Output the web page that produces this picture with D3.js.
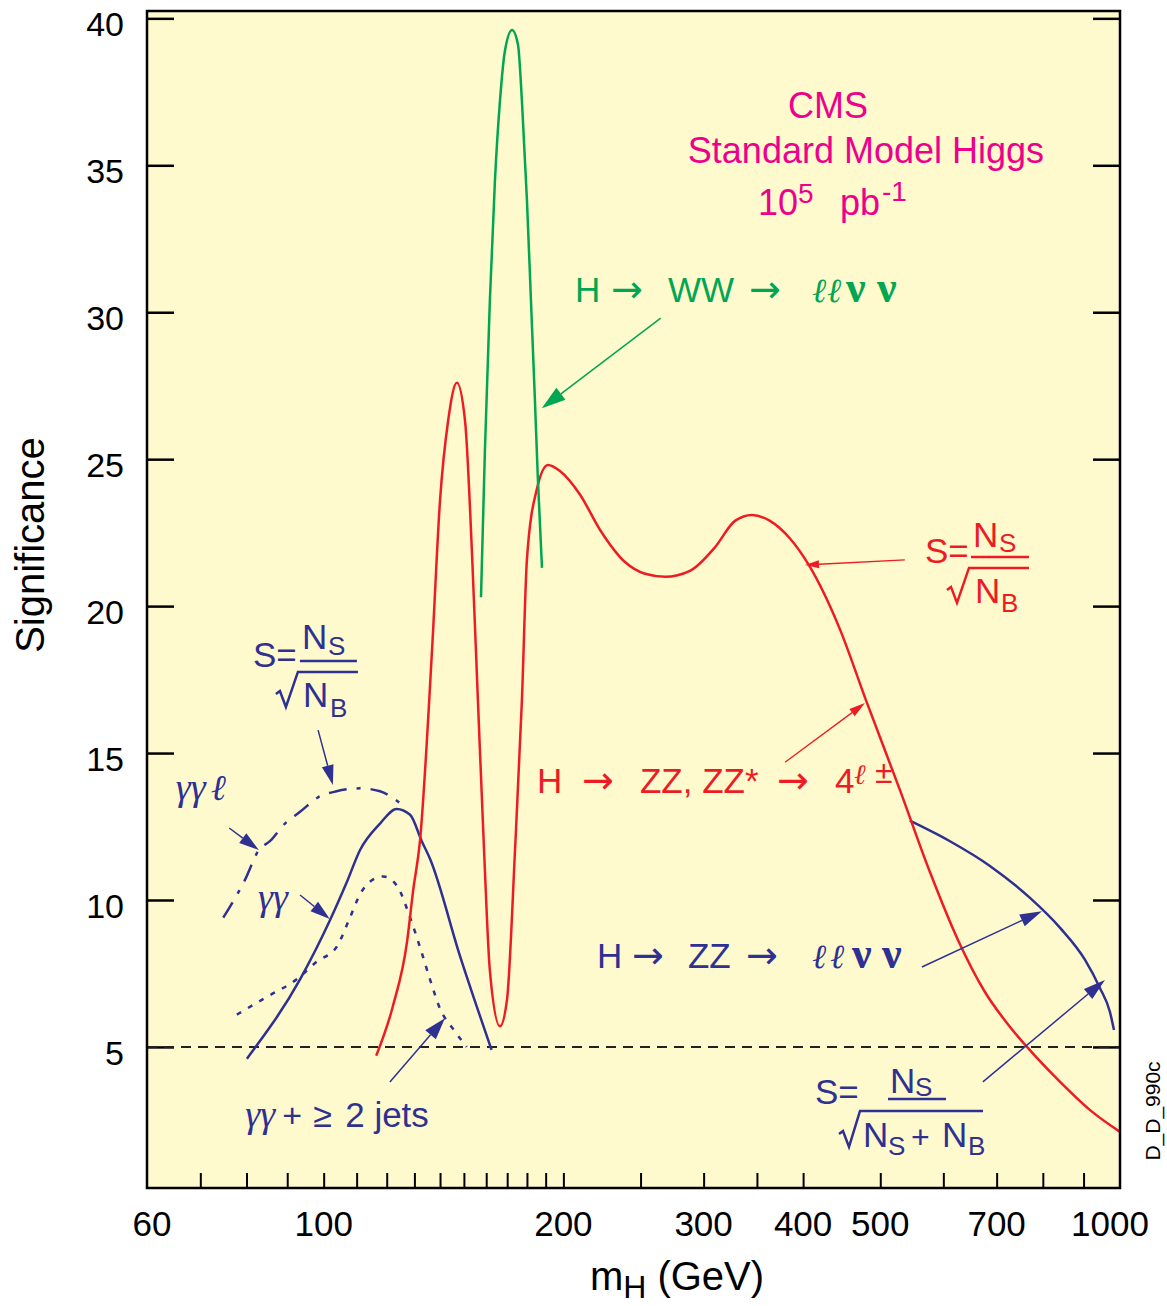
<!DOCTYPE html>
<html>
<head>
<meta charset="utf-8">
<script src="https://cdn.jsdelivr.net/npm/d3@7"></script>
<style>
  body { margin: 0; background: #fff; }
  svg { display: block; font-family: "Liberation Sans", Arial, Helvetica, sans-serif; }
</style>
</head>
<body>
<svg id="root" width="1167" height="1306"></svg>
<script>
// ---------------- data (mass in GeV, significance) ----------------
const yTickValues = [5, 10, 15, 20, 25, 30, 35, 40];
const xTickLabels = [60, 100, 200, 300, 400, 500, 700, 1000];
const xMinorTicks = [70, 80, 90, 100, 110, 120, 130, 140, 150, 160, 170, 180, 190, 200,
  250, 300, 350, 400, 500, 600, 700, 800, 900];
const discoveryLevel = 5;

// H -> ZZ, ZZ* -> 4 leptons
const zz4lMass = [116.4, 122.2, 127.3, 129.5, 132.1, 136.8, 140.0, 143.3, 147.0, 150.5, 153.5,
  156.2, 159.0, 161.7, 166.5, 169.9, 173.9, 177.4, 180.0, 185.3, 191.3, 198.0, 209.8, 222.3,
  239.0, 253.3, 268.4, 288.4, 310.0, 328.5, 345.0, 363.5, 385.1, 406.6, 445.1, 479.7, 529.3,
  577.2, 625.9, 676.7, 727.6, 764.2, 841.0, 917.1, 1000];
const zz4lSig = [4.7, 6.4, 8.6, 10.3, 12.0, 18.5, 23.6, 26.3, 27.6, 26.3, 21.9,
  16.8, 11.7, 7.6, 5.7, 6.6, 11.7, 16.8, 21.6, 24.0, 24.8, 24.6, 23.8, 22.6,
  21.5, 21.1, 21.0, 21.2, 22.0, 22.9, 23.1, 22.9, 22.3, 21.4, 19.2, 16.8, 13.74,
  10.95, 8.64, 6.87, 5.68, 5.0, 3.81, 2.85, 2.11];

// H -> WW -> l l nu nu
const wwMass = [157.6, 159.4, 161.7, 164.1, 166.5, 168.9, 172.4, 175.4, 177.4, 180.0, 182.1, 184.2, 185.8, 188.0];
const wwSig = [20.3, 25.3, 30.4, 34.5, 37.2, 38.9, 39.6, 39.1, 37.2, 33.8, 30.4, 27.0, 24.3, 21.3];

// H -> gamma gamma (inclusive)
const ggMass = [80.1, 93.4, 101.8, 106.9, 111.1, 117.7, 123.5, 128.4, 132.8, 136.0, 148.3, 162.5];
const ggSig = [4.6, 7.3, 9.3, 10.6, 11.7, 12.6, 13.1, 12.9, 12.0, 11.4, 8.1, 4.9];

// H -> gamma gamma + lepton
const gglMass = [74.8, 79.7, 82.9, 85.6, 89.4, 93.4, 98.5, 103.8, 111.1, 117.7, 124.7];
const gglSig = [9.4, 10.7, 11.7, 12.0, 12.6, 13.0, 13.5, 13.7, 13.8, 13.7, 13.3];

// H -> gamma gamma + >= 2 jets
const ggjjMass = [77.8, 84.8, 92.5, 98.0, 103.8, 107.9, 111.1, 115.4, 118.8, 123.5, 128.4, 132.1, 136.0, 140.0, 145.5, 151.2];
const ggjjSig = [6.1, 6.7, 7.3, 7.9, 8.4, 9.4, 10.2, 10.7, 10.8, 10.5, 9.4, 8.4, 7.3, 6.3, 5.6, 5.0];

// H -> ZZ -> l l nu nu
const zzllvvMass = [544.6, 611.6, 686.5, 770.9, 841.0, 903.9, 943.8, 971.4, 982.7];
const zzllvvSig = [12.7, 12.0, 11.16, 10.07, 9.05, 7.96, 7.0, 6.19, 5.58];

// ---------------- layout ----------------
const RED = "#ed1c24", GREEN = "#00a651", BLUE = "#2e3192", MAGENTA = "#ec008c", BG = "#fffacd";
const SERIF = '"Liberation Serif", "DejaVu Serif", serif';
const ARROWFONT = '"DejaVu Sans", sans-serif';

const svg = d3.select("#root");
const X0 = 147, X1 = 1120, Y0 = 11, Y1 = 1188;

const x = d3.scaleLog().domain([60, 1000]).range([X0, X1]);
const y = d3.scaleLinear().domain([0.2, 40.25]).range([Y1, Y0]);

svg.append("rect")
  .attr("x", X0).attr("y", Y0).attr("width", X1 - X0).attr("height", Y1 - Y0)
  .attr("fill", BG);

svg.append("clipPath").attr("id", "plot")
  .append("rect").attr("x", X0).attr("y", Y0).attr("width", X1 - X0).attr("height", Y1 - Y0);

// ticks
let xt = svg.append("g").attr("transform", `translate(0,${Y1})`)
  .call(d3.axisBottom(x).tickValues(xMinorTicks).tickSize(-15).tickFormat(""));
xt.select(".domain").remove();
xt.selectAll("line").attr("stroke-width", 2);

let ytl = svg.append("g").attr("transform", `translate(${X0},0)`)
  .call(d3.axisLeft(y).tickValues(yTickValues).tickSize(-27).tickFormat(""));
let ytr = svg.append("g").attr("transform", `translate(${X1},0)`)
  .call(d3.axisRight(y).tickValues(yTickValues).tickSize(-27).tickFormat(""));
[ytl, ytr].forEach(g => {
  g.select(".domain").remove();
  g.selectAll("line").attr("stroke-width", 2.5);
});

svg.append("g").selectAll("text").data(xTickLabels).join("text")
  .attr("x", d => x(d)).attr("y", 1236)
  .attr("text-anchor", "middle").attr("font-size", 35)
  .attr("dx", (d, i) => i === 0 ? 5 : (i === xTickLabels.length - 1 ? -10 : 0))
  .text(d => d);

svg.append("g").selectAll("text").data(yTickValues).join("text")
  .attr("x", 124).attr("y", d => y(d) + 18)
  .attr("text-anchor", "end").attr("font-size", 34)
  .text(d => d);

// axis titles
let xTitle = svg.append("text").attr("x", 677).attr("y", 1290)
  .attr("text-anchor", "middle").attr("font-size", 40);
xTitle.append("tspan").text("m");
xTitle.append("tspan").attr("font-size", 32).attr("dy", 8).text("H");
xTitle.append("tspan").attr("dy", -8).text(" (GeV)");

svg.append("text").attr("transform", "translate(44,545) rotate(-90)")
  .attr("text-anchor", "middle").attr("font-size", 40).text("Significance");

svg.append("text").attr("transform", "translate(1160,1111) rotate(-90)")
  .attr("text-anchor", "middle").attr("font-size", 21).text("D_D_990c");

// ---------------- curves ----------------
const plot = svg.append("g").attr("clip-path", "url(#plot)");

plot.append("line")
  .attr("x1", X0).attr("x2", X1)
  .attr("y1", y(discoveryLevel)).attr("y2", y(discoveryLevel))
  .attr("stroke", "#222").attr("stroke-width", 2).attr("stroke-dasharray", "10,7");

const line = d3.line().x(d => x(d[0])).y(d => y(d[1])).curve(d3.curveMonotoneX);

function curve(mass, sig, color, dash) {
  plot.append("path")
    .datum(d3.zip(mass, sig))
    .attr("d", line)
    .attr("fill", "none")
    .attr("stroke", color)
    .attr("stroke-width", 2.5)
    .attr("stroke-dasharray", dash || null);
}

curve(gglMass, gglSig, BLUE, "18,10,4,10");
curve(ggjjMass, ggjjSig, BLUE, "5,8");
curve(ggMass, ggSig, BLUE);
curve(zzllvvMass, zzllvvSig, BLUE);
curve(zz4lMass, zz4lSig, RED);
curve(wwMass, wwSig, GREEN);

// ---------------- annotations ----------------
const ann = svg.append("g");

function arrow(m1, s1, m2, s2, color, width, headLen, headW) {
  const x1 = x(m1), y1 = y(s1), x2 = x(m2), y2 = y(s2);
  const a = Math.atan2(y2 - y1, x2 - x1);
  const bx = x2 - headLen * Math.cos(a), by = y2 - headLen * Math.sin(a);
  const px = -Math.sin(a) * headW / 2, py = Math.cos(a) * headW / 2;
  ann.append("line").attr("x1", x1).attr("y1", y1).attr("x2", bx).attr("y2", by)
    .attr("stroke", color).attr("stroke-width", width);
  ann.append("path")
    .attr("d", `M${x2},${y2}L${bx + px},${by + py}L${bx - px},${by - py}Z`)
    .attr("fill", color);
}

// parts: [dx, dy, text, size, font, style, weight]
function label(m, s, color, parts) {
  const ox = x(m), oy = y(s);
  parts.forEach(p => {
    ann.append("text")
      .attr("x", ox + p[0]).attr("y", oy + p[1])
      .attr("font-size", p[3] || 35)
      .attr("font-family", p[4] || null)
      .attr("font-style", p[5] || null)
      .attr("font-weight", p[6] || null)
      .attr("fill", color)
      .text(p[2]);
  });
}

function radical(m, s, color, pts) {
  const ox = x(m), oy = y(s);
  ann.append("path")
    .attr("d", d3.line()(pts.map(p => [ox + p[0], oy + p[1]])))
    .attr("fill", "none").attr("stroke", color).attr("stroke-width", 2.5);
}

const RARR = "\u2192", ELL = "\u2113", NU = "\u03bd";

// title block
ann.append("text").attr("x", x(429.8)).attr("y", y(36.61)).attr("text-anchor", "middle")
  .attr("font-size", 36).attr("fill", MAGENTA).text("CMS");
ann.append("text").attr("x", x(479.7)).attr("y", y(35.09)).attr("text-anchor", "middle")
  .attr("font-size", 36).attr("fill", MAGENTA).text("Standard Model Higgs");
label(351, 33.31, MAGENTA, [
  [0, 0, "10", 36], [40, -12, "5", 28], [82, 0, "pb", 36], [124, -14, "-1", 28]
]);

// H -> WW
label(206.8, 30.36, GREEN, [
  [0, 0, "H"], [36, 0, RARR, 38, ARROWFONT], [93, 0, "WW"], [174, 0, RARR, 38, ARROWFONT],
  [237, 0, ELL, 34, SERIF, "italic"], [252, 0, ELL, 34, SERIF, "italic"],
  [271, 0, NU, 44, SERIF, null, "bold"], [302, 0, NU, 44, SERIF, null, "bold"]
]);
arrow(265.0, 29.80, 187.9, 26.73, GREEN, 1.5, 24, 15);

// S = Ns / sqrt(Nb), red
label(569, 21.47, RED, [
  [0, 0, "S="], [48, -16, "N"], [74, -11, "S", 26], [50, 40, "N"], [76, 49, "B", 26]
]);
ann.append("line").attr("x1", x(569) + 46).attr("x2", x(569) + 104)
  .attr("y1", y(21.47) - 6).attr("y2", y(21.47) - 6)
  .attr("stroke", RED).attr("stroke-width", 2.5);
radical(569, 21.47, RED, [[22, 27], [26, 24], [32, 40], [44, 5], [104, 5]]);
arrow(536.8, 21.57, 402.2, 21.40, RED, 1.3, 14, 8);

// H -> ZZ, ZZ* -> 4l
label(185.3, 13.64, RED, [
  [0, 0, "H"], [45, 0, RARR, 38, ARROWFONT], [103, 0, "ZZ, ZZ*"], [240, 0, RARR, 38, ARROWFONT], [298, 0, "4"],
  [317, -9, ELL, 28, SERIF, "italic"], [338, -10, "\u00b1", 32]
]);
arrow(379.6, 14.69, 478.3, 16.70, RED, 1.3, 16, 9);

// S = Ns / sqrt(Nb), blue
label(81.5, 17.93, BLUE, [
  [0, 0, "S="], [49, -18, "N"], [75, -12, "S", 26], [50, 40, "N"], [77, 50, "B", 26]
]);
ann.append("line").attr("x1", x(81.5) + 47).attr("x2", x(81.5) + 104)
  .attr("y1", y(17.93) - 6).attr("y2", y(17.93) - 6)
  .attr("stroke", BLUE).attr("stroke-width", 2.5);
radical(81.5, 17.93, BLUE, [[23, 27], [27, 24], [33, 40], [45, 5], [105, 5]]);
arrow(98.4, 15.78, 102.7, 13.91, BLUE, 1.5, 20, 12);

// gamma gamma l
label(65.2, 13.40, BLUE, [[0, 0, "\u03b3\u03b3", 38, SERIF, "italic"], [35, 0, ELL, 36, SERIF, "italic"]]);
arrow(76.1, 12.45, 82.9, 11.70, BLUE, 1.5, 20, 12);

// gamma gamma
label(82.7, 9.66, BLUE, [[0, 0, "\u03b3\u03b3", 38, SERIF, "italic"]]);
arrow(93.4, 10.17, 101.8, 9.35, BLUE, 1.5, 20, 12);

// gamma gamma + >= 2 jets
label(79.7, 2.28, BLUE, [
  [0, 0, "\u03b3\u03b3", 38, SERIF, "italic"], [37, 0, "+", 34], [68, 0, "\u2265", 34], [100, 0, "2 jets", 35]
]);
arrow(121.1, 3.81, 142.0, 5.98, BLUE, 1.5, 22, 14);

// H -> ZZ -> l l nu nu
label(220.4, 7.69, BLUE, [
  [0, 0, "H"], [35, 0, RARR, 38, ARROWFONT], [91, 0, "ZZ"], [149, 0, RARR, 38, ARROWFONT],
  [215, 0, ELL, 34, SERIF, "italic"], [233, 0, ELL, 34, SERIF, "italic"],
  [255, 0, NU, 44, SERIF, null, "bold"], [285, 0, NU, 44, SERIF, null, "bold"]
]);
arrow(564, 7.72, 797.9, 9.62, BLUE, 1.5, 22, 13);

// S = Ns / sqrt(Ns + Nb), blue
label(414, 3.06, BLUE, [
  [0, 0, "S="], [75, -11, "N"], [100, -8, "S", 26],
  [48, 43, "N"], [73, 51, "S", 26], [96, 44, "+", 32], [127, 43, "N"], [153, 51, "B", 26]
]);
ann.append("line").attr("x1", x(414) + 73).attr("x2", x(414) + 131)
  .attr("y1", y(3.06) - 5).attr("y2", y(3.06) - 5)
  .attr("stroke", BLUE).attr("stroke-width", 2.5);
radical(414, 3.06, BLUE, [[24, 30], [28, 27], [34, 43], [45, 7], [168, 7]]);
arrow(672.7, 3.81, 957.5, 7.28, BLUE, 1.5, 22, 13);

// frame on top
svg.append("rect")
  .attr("x", X0).attr("y", Y0).attr("width", X1 - X0).attr("height", Y1 - Y0)
  .attr("fill", "none").attr("stroke", "#000").attr("stroke-width", 2.5);
</script>
</body>
</html>
